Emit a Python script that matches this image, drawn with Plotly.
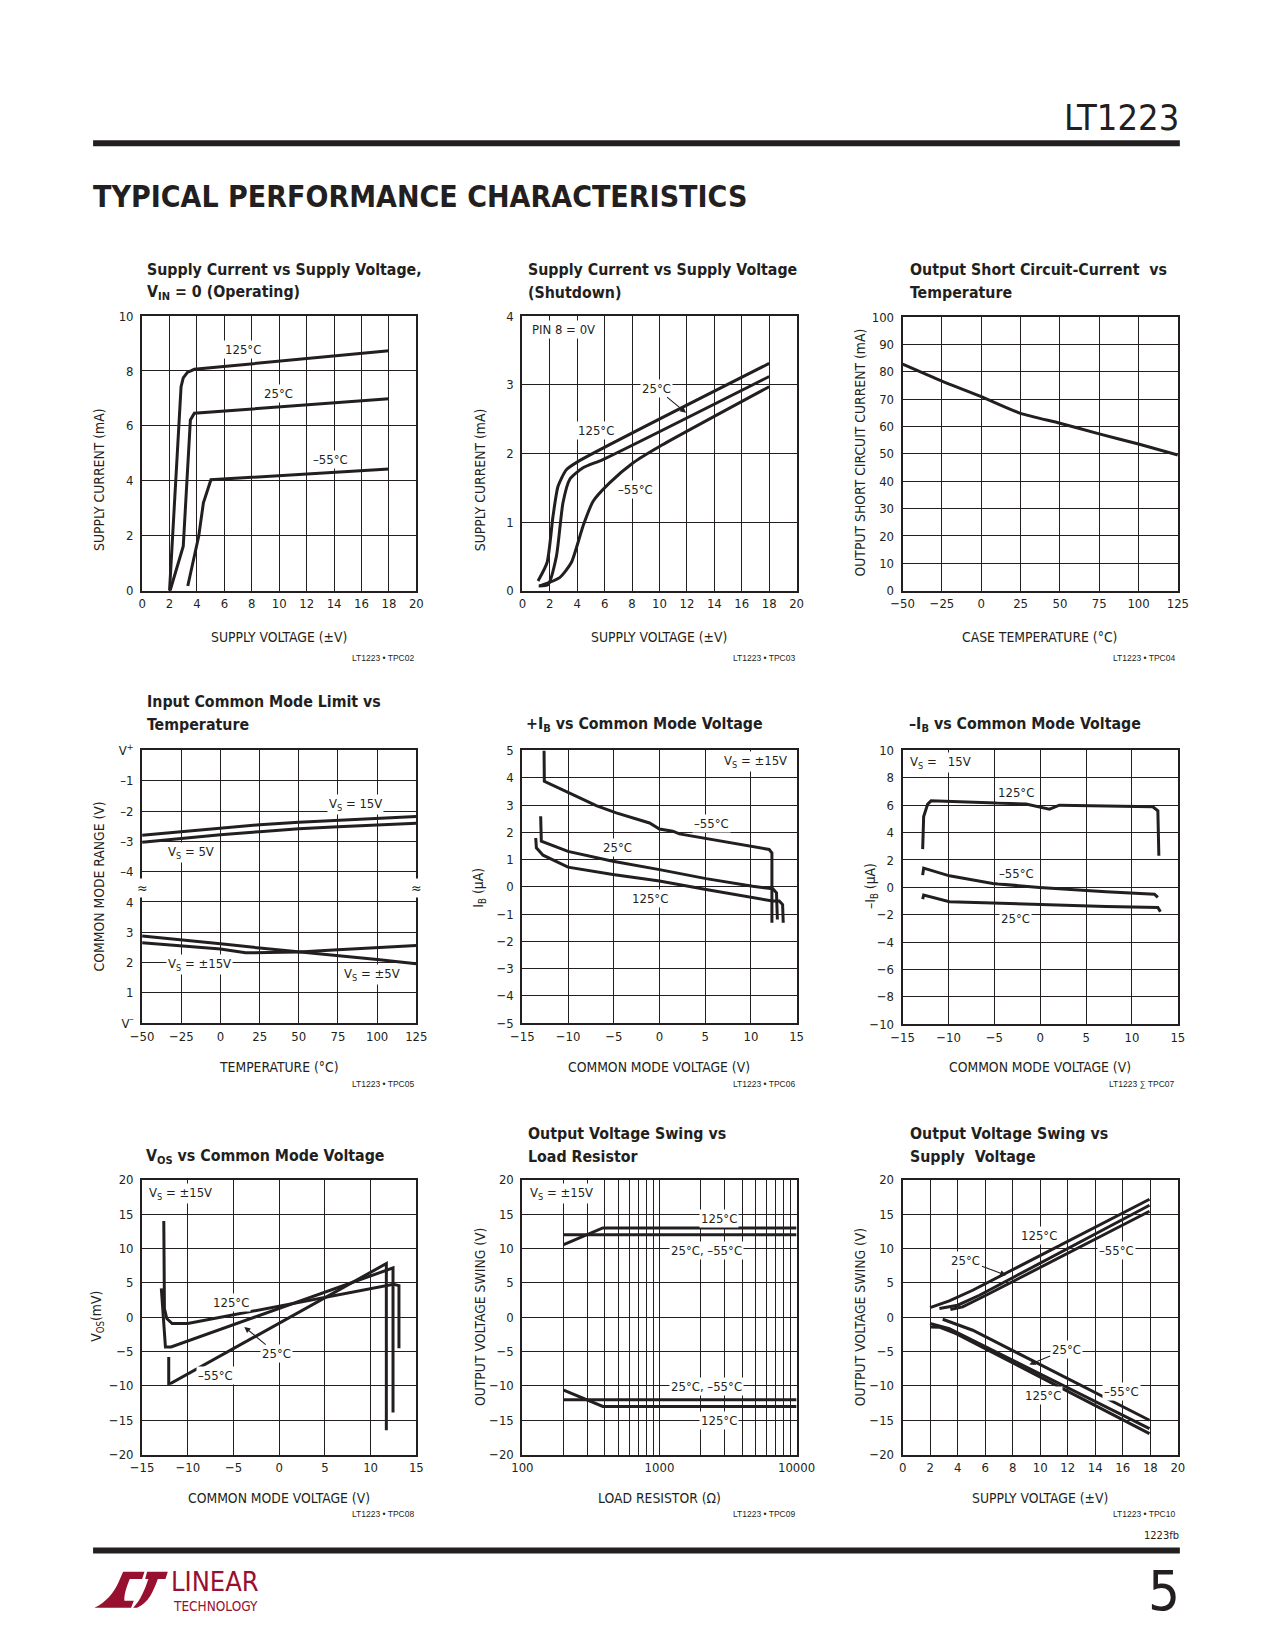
import math
import plotly.graph_objects as go

W, H = 1275, 1650
INK = "#231f20"
RED = "#98102f"
FONT = "Liberation Sans Narrow, Arial Narrow, DejaVu Sans Condensed, Roboto Condensed, Arial, sans-serif"

# ------------------------------------------------------------------ data
# 1  Supply current vs supply voltage (operating)
c1_125_x = [2.0, 2.84, 3.0, 3.3, 3.81, 18.0]
c1_125_y = [0.0, 7.43, 7.75, 7.95, 8.06, 8.74]
c1_25_x = [2.04, 3.0, 3.52, 3.81, 18.0]
c1_25_y = [0.0, 1.62, 6.22, 6.46, 6.99]
c1_m55_x = [3.33, 4.13, 4.47, 5.02, 18.0]
c1_m55_y = [0.17, 1.99, 3.2, 4.04, 4.43]

# 2  Supply current vs supply voltage (shutdown)
c2_125_x = [1.14, 1.8, 2.23, 2.6, 3.2, 4.05, 18.0]
c2_125_y = [0.14, 0.41, 1.08, 1.52, 1.76, 1.88, 3.31]
c2_25_x = [1.19, 1.87, 2.48, 2.96, 3.45, 4.42, 5.87, 18.0]
c2_25_y = [0.07, 0.09, 0.5, 1.28, 1.62, 1.79, 1.91, 3.12]
c2_m55_x = [1.26, 2.72, 3.57, 4.42, 5.15, 6.36, 8.06, 10.0, 18.0]
c2_m55_y = [0.07, 0.19, 0.41, 0.94, 1.3, 1.57, 1.86, 2.1, 2.97]

# 3  Output short circuit current vs temperature
c3_t = [-50, -25, 0, 25, 50, 75, 100, 125]
c3_i = [82.8, 76.6, 70.9, 64.8, 61.2, 57.3, 53.6, 49.6]

# 4  Input common mode limit vs temperature
c4_t = [-50, -25, 0, 25, 50, 75, 100, 125]
c4_hi_15 = [-2.8, -2.68, -2.55, -2.45, -2.37, -2.3, -2.23, -2.18]   # below V+
c4_hi_5 = [-3.03, -2.9, -2.78, -2.68, -2.58, -2.52, -2.46, -2.4]    # below V+
c4_lo_5 = [2.88, 2.76, 2.62, 2.48, 2.36, 2.24, 2.1, 1.96]            # above V-
c4_lo_15_t = [-50, -25, 0, 16, 50, 75, 100, 125]
c4_lo_15 = [2.65, 2.55, 2.45, 2.32, 2.35, 2.42, 2.48, 2.56]          # above V-
c4_ticktext = ["V<sup>–</sup>", "1", "2", "3", "4", "–4", "–3", "–2", "–1", "V<sup>+</sup>"]

# 5  +IB vs common mode voltage
c5_m55_x = [-12.63, -12.6, -9.83, -6.92, -4.73, -1.09, 0.0, 1.45, 2.18, 12.0, 12.3, 12.3]
c5_m55_y = [5.0, 3.87, 3.44, 2.98, 2.71, 2.34, 2.12, 2.04, 1.94, 1.37, 1.24, -1.32]
c5_25_x = [-13.0, -12.93, -10.01, -5.1, 0.0, 5.1, 10.2, 12.4, 12.8, 12.9]
c5_25_y = [2.59, 1.67, 1.3, 0.94, 0.63, 0.3, 0.02, -0.07, -0.22, -1.2]
c5_125_x = [-13.54, -13.47, -12.74, -10.01, -5.1, 0.0, 5.1, 10.2, 12.38, 13.1, 13.47, 13.54]
c5_125_y = [1.79, 1.43, 1.16, 0.72, 0.45, 0.21, -0.1, -0.4, -0.52, -0.52, -0.65, -1.32]

# 6  -IB vs common mode voltage
c6_125_x = [-12.82, -12.71, -12.27, -11.9, -1.55, 1.0, 2.09, 12.27, 12.82, 12.93]
c6_125_y = [2.79, 5.18, 6.08, 6.32, 6.08, 5.71, 6.0, 5.88, 5.59, 2.3]
c6_m55_x = [-12.82, -12.71, -9.9, -5.18, -0.09, 7.18, 12.45, 12.82]
c6_m55_y = [0.89, 1.4, 0.84, 0.28, -0.01, -0.33, -0.5, -0.74]
c6_25_x = [-12.82, -12.71, -9.9, 0.0, 7.18, 12.82, 13.1]
c6_25_y = [-0.86, -0.57, -1.06, -1.28, -1.4, -1.47, -1.79]

# 7  VOS vs common mode voltage
c7_125_x = [-12.63, -12.56, -12.3, -11.72, -10.01, 12.5, 13.1, 13.1]
c7_125_y = [14.03, 1.26, -0.19, -0.92, -0.92, 4.8, 4.6, -4.5]
c7_25_x = [-12.9, -12.45, -11.83, 12.38, 12.45, 12.45]
c7_25_y = [4.2, -4.32, -4.32, 7.18, 7.18, -13.88]
c7_m55_x = [-12.09, -12.09, -11.8, 11.72, 11.72]
c7_m55_y = [-5.78, -9.66, -9.6, 7.82, -16.46]

# 8  Output voltage swing vs load resistor
c8_r_125 = [200, 366, 386, 10000]
c8_pos_125 = [10.58, 12.91, 13.0, 13.0]
c8_neg_125 = [-10.63, -12.9, -13.0, -13.0]
c8_r_cold = [200, 10000]
c8_pos_cold = [12.0, 12.0]
c8_neg_cold = [-12.0, -12.0]
c8_major = [100, 1000, 10000]
c8_minor = [200, 300, 400, 500, 600, 700, 800, 900,
            2000, 3000, 4000, 5000, 6000, 7000, 8000, 9000]

# 9  Output voltage swing vs supply voltage
c9_up125_x = [1.99, 3.39, 5.09, 17.94]
c9_up125_y = [1.41, 2.38, 3.93, 17.18]
c9_up25_x = [2.67, 4.0, 5.58, 17.94]
c9_up25_y = [1.26, 1.75, 3.2, 16.31]
c9_upm55_x = [3.47, 4.36, 6.06, 17.94]
c9_upm55_y = [1.12, 1.5, 3.2, 15.44]
c9_lom55_x = [2.91, 5.09, 17.94]
c9_lom55_y = [-0.29, -1.89, -15.0]
c9_lo25_x = [1.99, 3.39, 17.94]
c9_lo25_y = [-0.92, -1.65, -16.21]
c9_lo125_x = [1.99, 2.67, 3.88, 17.94]
c9_lo125_y = [-1.41, -1.45, -2.38, -16.94]


# ------------------------------------------------------------------ helpers
# page-position mapping (compensates the offset/scale seen in the rendered photo)
SX, OX = 0.975, 21.5
SY, OY = 0.991, 16.7


def px(x):
    return (x / SX - OX) / W


def py(y):
    return 1 - (y / SY - OY) / H


fig = go.Figure()
LW = 3.0


def line(i, x, y, shape="linear"):
    ax = "" if i == 1 else str(i)
    fig.add_trace(go.Scatter(x=x, y=y, mode="lines", xaxis="x" + ax, yaxis="y" + ax,
                             line=dict(color=INK, width=LW, shape=shape, smoothing=0.6),
                             showlegend=False, hoverinfo="skip"))


annotations = []
LS = 13


def lab(i, text, x, y, xanchor="center", size=LS, bg="white"):
    ax = "" if i == 1 else str(i)
    annotations.append(dict(text=text, x=x, y=y, xref="x" + ax, yref="y" + ax,
                            xanchor=xanchor, yanchor="middle", showarrow=False,
                            bgcolor=bg, borderpad=1,
                            font=dict(family=FONT, size=size, color=INK)))


def arrow_lab(i, text, tx, ty, hx, hy):
    ax = "" if i == 1 else str(i)
    annotations.append(dict(text=text, x=hx, y=hy, ax=tx, ay=ty,
                            xref="x" + ax, yref="y" + ax, axref="x" + ax, ayref="y" + ax,
                            showarrow=True, arrowhead=2, arrowsize=1.1, arrowwidth=1.1,
                            arrowcolor=INK, bgcolor="white", borderpad=1,
                            font=dict(family=FONT, size=LS, color=INK)))


def page_text(text, x, y, size, xanchor="left", yanchor="middle", angle=0, color=INK, family=FONT):
    annotations.append(dict(text=text, x=px(x), y=py(y), xref="paper", yref="paper",
                            xanchor=xanchor, yanchor=yanchor, showarrow=False, textangle=angle,
                            font=dict(family=family, size=size, color=color)))


# ------------------------------------------------------------------ traces
line(1, c1_125_x, c1_125_y)
line(1, c1_25_x, c1_25_y)
line(1, c1_m55_x, c1_m55_y)

line(2, c2_125_x, c2_125_y, "spline")
line(2, c2_25_x, c2_25_y, "spline")
line(2, c2_m55_x, c2_m55_y, "spline")

line(3, c3_t, c3_i, "spline")

line(4, c4_t, [9 + v for v in c4_hi_15])
line(4, c4_t, [9 + v for v in c4_hi_5])
line(4, c4_t, c4_lo_5)
line(4, c4_lo_15_t, c4_lo_15)

line(5, c5_m55_x, c5_m55_y)
line(5, c5_25_x, c5_25_y)
line(5, c5_125_x, c5_125_y)

line(6, c6_125_x, c6_125_y)
line(6, c6_m55_x, c6_m55_y)
line(6, c6_25_x, c6_25_y)

line(7, c7_125_x, c7_125_y)
line(7, c7_25_x, c7_25_y)
line(7, c7_m55_x, c7_m55_y)

line(8, c8_r_125, c8_pos_125)
line(8, c8_r_125, c8_neg_125)
line(8, c8_r_cold, c8_pos_cold)
line(8, c8_r_cold, c8_neg_cold)

line(9, c9_up125_x, c9_up125_y)
line(9, c9_up25_x, c9_up25_y)
line(9, c9_upm55_x, c9_upm55_y)
line(9, c9_lom55_x, c9_lom55_y)
line(9, c9_lo25_x, c9_lo25_y)
line(9, c9_lo125_x, c9_lo125_y)

# ------------------------------------------------------------------ axes
boxes = {
    1: (143, 417, 316, 591), 2: (523, 797, 316, 591), 3: (903, 1178, 317, 591),
    4: (143, 417, 751, 1024), 5: (523, 797, 751, 1024), 6: (903, 1178, 751, 1025),
    7: (143, 417, 1181, 1456), 8: (523, 797, 1181, 1456), 9: (903, 1178, 1181, 1456),
}

xcfg = {
    1: dict(range=[0, 20], dtick=2, tick0=0),
    2: dict(range=[0, 20], dtick=2, tick0=0),
    3: dict(range=[-50, 125], dtick=25, tick0=0),
    4: dict(range=[-50, 125], dtick=25, tick0=0),
    5: dict(range=[-15, 15], dtick=5, tick0=0),
    6: dict(range=[-15, 15], dtick=5, tick0=0),
    7: dict(range=[-15, 15], dtick=5, tick0=0),
    8: dict(type="log", range=[2, 4], tickmode="array", tickvals=c8_major,
            ticktext=[str(v) for v in c8_major],
            minor=dict(tickmode="array", tickvals=c8_minor, showgrid=True,
                       gridcolor=INK, gridwidth=1, ticks="")),
    9: dict(range=[0, 20], dtick=2, tick0=0),
}
ycfg = {
    1: dict(range=[0, 10], dtick=2, tick0=0),
    2: dict(range=[0, 4], dtick=1, tick0=0),
    3: dict(range=[0, 100], dtick=10, tick0=0),
    4: dict(range=[0, 9], tickmode="array", tickvals=list(range(10)), ticktext=c4_ticktext),
    5: dict(range=[-5, 5], dtick=1, tick0=0),
    6: dict(range=[-10, 10], dtick=2, tick0=0),
    7: dict(range=[-20, 20], dtick=5, tick0=0),
    8: dict(range=[-20, 20], dtick=5, tick0=0),
    9: dict(range=[-20, 20], dtick=5, tick0=0),
}

common = dict(showline=True, mirror=True, linecolor=INK, linewidth=2,
              showgrid=True, gridcolor=INK, gridwidth=1, zeroline=False,
              ticks="", fixedrange=True,
              tickfont=dict(family=FONT, size=13, color=INK))

layout_axes = {}
for i, (x0, x1, y0, y1) in boxes.items():
    s = "" if i == 1 else str(i)
    xa = dict(common, domain=[px(x0), px(x1)], anchor="y" + s, **xcfg[i])
    ya = dict(common, domain=[py(y1), py(y0)], anchor="x" + s, ticklabelstandoff=4, **ycfg[i])
    layout_axes["xaxis" + s] = xa
    layout_axes["yaxis" + s] = ya

# ------------------------------------------------------------------ chart labels
lab(1, "125°C", 7.33, 8.77)
lab(1, "25°C", 9.93, 7.17)
lab(1, "–55°C", 13.76, 4.79)

lab(2, "PIN 8 = 0V", 0.55, 3.8, xanchor="left")
arrow_lab(2, "25°C", 9.76, 2.95, 11.94, 2.59)
lab(2, "125°C", 5.34, 2.34)
lab(2, "–55°C", 8.25, 1.47)

lab(4, "V<sub>S</sub> = 15V", 86.3, 7.21)
lab(4, "V<sub>S</sub> = 5V", -18.8, 5.62)
lab(4, "V<sub>S</sub> = ±15V", -13.5, 1.94)
lab(4, "V<sub>S</sub> = ±5V", 97, 1.61)
lab(4, "≈", -50, 4.47, size=14)
lab(4, "≈", 125, 4.47, size=14)

lab(5, "V<sub>S</sub> = ±15V", 14.2, 4.6, xanchor="right")
lab(5, "–55°C", 5.64, 2.32)
lab(5, "25°C", -4.55, 1.45)
lab(5, "125°C", -1.09, -0.43)

lab(6, "V<sub>S</sub> =   15V", -14.45, 9.1, xanchor="left")
lab(6, "125°C", -2.64, 6.93)
lab(6, "–55°C", -2.64, 1.01)
lab(6, "25°C", -2.7, -2.28)

lab(7, "V<sub>S</sub> = ±15V", -14.45, 18.0, xanchor="left")
lab(7, "125°C", -5.28, 2.09)
arrow_lab(7, "25°C", -0.29, -5.29, -3.82, -1.41)
lab(7, "–55°C", -6.92, -8.45)

lab(8, "V<sub>S</sub> = ±15V", math.log10(110), 18.0, xanchor="left")
lab(8, "125°C", math.log10(2735), 14.37)
lab(8, "25°C, –55°C", math.log10(2185), 9.76)
lab(8, "25°C, –55°C", math.log10(2185), -10.15)
lab(8, "125°C", math.log10(2735), -15.1)

lab(9, "125°C", 9.89, 11.94)
arrow_lab(9, "25°C", 4.6, 8.3, 7.52, 6.12)
lab(9, "–55°C", 15.56, 9.76)
arrow_lab(9, "25°C", 11.88, -4.71, 9.21, -6.89)
lab(9, "–55°C", 15.88, -10.78)
lab(9, "125°C", 10.18, -11.36)

# ------------------------------------------------------------------ titles & axis titles
TS = 15.8
titles = [
    (146, 269, "<b>Supply Current vs Supply Voltage,</b>"),
    (146, 292, "<b>V<sub>IN</sub> = 0 (Operating)</b>"),
    (527, 269, "<b>Supply Current vs Supply Voltage</b>"),
    (527, 292, "<b>(Shutdown)</b>"),
    (908, 269, "<b>Output Short Circuit-Current  vs</b>"),
    (908, 292, "<b>Temperature</b>"),
    (146, 702, "<b>Input Common Mode Limit vs</b>"),
    (146, 725, "<b>Temperature</b>"),
    (525, 725, "<b>+I<sub>B</sub> vs Common Mode Voltage</b>"),
    (907, 725, "<b>–I<sub>B</sub> vs Common Mode Voltage</b>"),
    (145, 1158, "<b>V<sub>OS</sub> vs Common Mode Voltage</b>"),
    (527, 1135, "<b>Output Voltage Swing vs</b>"),
    (527, 1158, "<b>Load Resistor</b>"),
    (908, 1135, "<b>Output Voltage Swing vs</b>"),
    (908, 1158, "<b>Supply  Voltage</b>"),
]
for x, y, t in titles:
    page_text(t, x, y, TS)

AT = 13.8
xtitles = [
    (280, 637, "SUPPLY VOLTAGE (±V)"), (660, 637, "SUPPLY VOLTAGE (±V)"),
    (1040, 637, "CASE TEMPERATURE (°C)"),
    (280, 1068, "TEMPERATURE (°C)"), (660, 1068, "COMMON MODE VOLTAGE (V)"),
    (1040, 1068, "COMMON MODE VOLTAGE (V)"),
    (280, 1500, "COMMON MODE VOLTAGE (V)"), (660, 1500, "LOAD RESISTOR (Ω)"),
    (1040, 1500, "SUPPLY VOLTAGE (±V)"),
]
for x, y, t in xtitles:
    page_text(t, x, y, AT, xanchor="center")

ytitles = [
    (100, 480, "SUPPLY CURRENT (mA)"), (480, 480, "SUPPLY CURRENT (mA)"),
    (860, 453, "OUTPUT SHORT CIRCUIT CURRENT (mA)"),
    (100, 887, "COMMON MODE RANGE (V)"), (480, 888, "I<sub>B</sub> (µA)"),
    (872, 887, "–I<sub>B</sub> (µA)"),
    (98, 1318, "V<sub>OS</sub>(mV)"), (480, 1318, "OUTPUT VOLTAGE SWING (V)"),
    (860, 1318, "OUTPUT VOLTAGE SWING (V)"),
]
for x, y, t in ytitles:
    page_text(t, x, y, AT, xanchor="center", angle=-90)

codes = [
    (417, 658, "LT1223 • TPC02"), (797, 658, "LT1223 • TPC03"), (1177, 658, "LT1223 • TPC04"),
    (417, 1085, "LT1223 • TPC05"), (797, 1085, "LT1223 • TPC06"), (1177, 1085, "LT1223 ∑ TPC07"),
    (417, 1516, "LT1223 • TPC08"), (797, 1516, "LT1223 • TPC09"), (1177, 1516, "LT1223 • TPC10"),
]
for x, y, t in codes:
    page_text(t, x, y, 8.5, xanchor="right", family="Liberation Sans, Arial, sans-serif")

# ------------------------------------------------------------------ page furniture
page_text("LT1223", 1181, 117, 36, xanchor="right")
page_text("<b>TYPICAL PERFORMANCE CHARACTERISTICS</b>", 92, 196, 30)
page_text("1223fb", 1181, 1537, 11, xanchor="right")
page_text("5", 1182, 1592, 56, xanchor="right")
page_text("LINEAR", 170, 1583, 27, color=RED)
page_text("TECHNOLOGY", 172, 1608, 13.5, color=RED)

shapes = [
    dict(type="rect", xref="paper", yref="paper", x0=px(94), x1=px(1180), y0=py(146), y1=py(140),
         fillcolor=INK, line=dict(width=0)),
    dict(type="rect", xref="paper", yref="paper", x0=px(94), x1=px(1180), y0=py(1555), y1=py(1549),
         fillcolor=INK, line=dict(width=0)),
]


def logo_path(cmds):
    out = []
    for c in cmds:
        if isinstance(c, str):
            out.append(c)
        else:
            zx, zy = c
            out.append(f"{px(88 + zx / 3):.5f},{py(1565 + zy / 3):.5f}")
    return " ".join(out)


pA = logo_path(["M", (22, 133), "C", (55, 118), (80, 90), (95, 55), "L", (108, 25), "L", (172, 25),
                "L", (165, 47), "L", (128, 47), "C", (118, 72), (110, 95), (112, 112),
                "L", (140, 112), "L", (132, 133), "Z"])
pB = logo_path(["M", (180, 25), "L", (242, 25), "L", (235, 47), "L", (212, 47),
                "C", (198, 85), (185, 118), (150, 133), "L", (138, 133),
                "C", (160, 112), (172, 80), (184, 47), "L", (174, 47), "Z"])
for p in (pA, pB):
    shapes.append(dict(type="path", xref="paper", yref="paper", path=p,
                       fillcolor=RED, line=dict(width=0)))

fig.update_layout(
    width=W, height=H, margin=dict(l=0, r=0, t=0, b=0),
    paper_bgcolor="white", plot_bgcolor="white",
    showlegend=False, annotations=annotations, shapes=shapes,
    font=dict(family=FONT, color=INK),
    **layout_axes,
)

fig.write_html("out.html")
